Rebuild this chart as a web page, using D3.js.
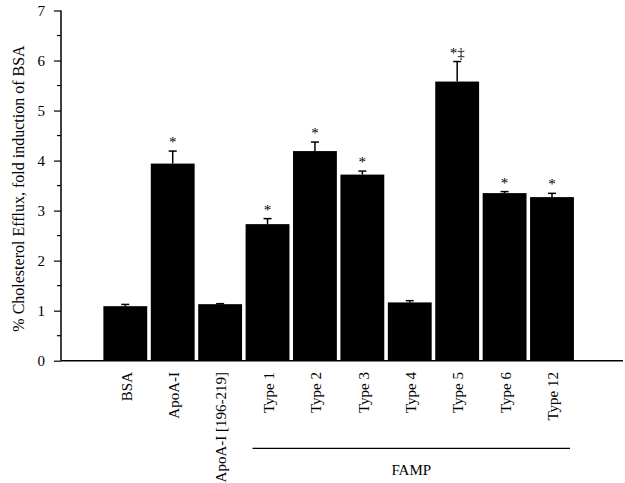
<!DOCTYPE html>
<html>
<head>
<meta charset="utf-8">
<script src="https://cdn.jsdelivr.net/npm/d3@7"></script>
<style>
  html, body { margin: 0; padding: 0; background: #fff; }
  svg { display: block; }
  text { font-family: "Liberation Serif", "Times New Roman", serif; fill: #000; }
</style>
</head>
<body>
<svg id="chart" width="625" height="483"></svg>
<script>
const categories = ["BSA", "ApoA-I", "ApoA-I [196-219]", "Type 1", "Type 2", "Type 3", "Type 4", "Type 5", "Type 6", "Type 12"];
const values = [1.09, 3.94, 1.13, 2.73, 4.19, 3.72, 1.165, 5.58, 3.35, 3.27];
const errors = [0.035, 0.25, 0.01, 0.11, 0.18, 0.07, 0.035, 0.40, 0.03, 0.075];
const marks = ["", "*", "", "*", "*", "*", "", "*\u2021", "*", "*"];
const yTicks = [0, 1, 2, 3, 4, 5, 6, 7];
const groupLabel = "FAMP";
const groupMembers = ["Type 1", "Type 12"];
const yLabel = "% Cholesterol Efflux, fold induction of BSA";

const svg = d3.select("#chart");
const x0 = 61, x1 = 623, yTop = 10.5, yBot = 360.7;

const y = d3.scaleLinear().domain([0, 7]).range([yBot, yTop]);
const x = d3.scaleBand().domain(categories).range([101.6, 575.7])
  .paddingInner(0.075).paddingOuter(0.0375);

// minor ticks
const minor = d3.range(0.5, 7, 1);
svg.append("g").selectAll("line").data(minor).join("line")
  .attr("x1", x0 - 4).attr("x2", x0)
  .attr("y1", d => y(d)).attr("y2", d => y(d))
  .attr("stroke", "#000").attr("stroke-width", 1.2);

// y axis
const yAxis = d3.axisLeft(y).tickValues(yTicks).tickSize(7).tickPadding(9).tickFormat(d3.format("d"));
const gy = svg.append("g").attr("transform", `translate(${x0},0)`).call(yAxis);
gy.select(".domain").remove();
gy.selectAll(".tick line").attr("stroke", "#000").attr("stroke-width", 1.2);
gy.selectAll(".tick text").style("font-size", "15px").style("font-family", "Liberation Serif, serif");
svg.append("line").attr("x1", x0).attr("x2", x0).attr("y1", yTop).attr("y2", yBot)
  .attr("stroke", "#000").attr("stroke-width", 1.5);

// bars
svg.append("g").selectAll("rect").data(categories).join("rect")
  .attr("x", d => x(d))
  .attr("width", x.bandwidth())
  .attr("y", (d, i) => y(values[i]))
  .attr("height", (d, i) => y(0) - y(values[i]))
  .attr("fill", "#000");

// error bars
const eb = svg.append("g");
categories.forEach((c, i) => {
  const cx = x(c) + x.bandwidth() / 2;
  const top = y(values[i] + errors[i]);
  eb.append("line").attr("x1", cx).attr("x2", cx).attr("y1", y(values[i])).attr("y2", top)
    .attr("stroke", "#000").attr("stroke-width", 1.5);
  eb.append("line").attr("x1", cx - 4).attr("x2", cx + 4).attr("y1", top).attr("y2", top)
    .attr("stroke", "#000").attr("stroke-width", 1.5);
  if (marks[i]) {
    eb.append("text").attr("x", cx).attr("y", top - 4)
      .attr("text-anchor", "middle").style("font-size", "15px").text(marks[i]);
  }
});

// x axis line
svg.append("line").attr("x1", x0).attr("x2", x1).attr("y1", yBot).attr("y2", yBot)
  .attr("stroke", "#000").attr("stroke-width", 1.5);

// x labels
svg.append("g").selectAll("text").data(categories).join("text")
  .attr("transform", d => `translate(${x(d) + x.bandwidth() / 2 + 1},372) rotate(-90)`)
  .attr("text-anchor", "end").attr("dy", "0.35em")
  .style("font-size", "15px").text(d => d);

// group line
const gx0 = x(groupMembers[0]) + x.bandwidth() / 2 - 15;
const gx1 = x(groupMembers[1]) + x.bandwidth() / 2 + 18;
svg.append("line").attr("x1", gx0).attr("x2", gx1).attr("y1", 448.3).attr("y2", 448.3)
  .attr("stroke", "#000").attr("stroke-width", 1.2);
svg.append("text").attr("x", (gx0 + gx1) / 2).attr("y", 475)
  .attr("text-anchor", "middle").style("font-size", "15px").text(groupLabel);

// y label
svg.append("text").attr("transform", `translate(18,188.5) rotate(-90)`)
  .attr("text-anchor", "middle").attr("dy", "0.35em")
  .style("font-size", "16px").text(yLabel);
</script>
</body>
</html>
